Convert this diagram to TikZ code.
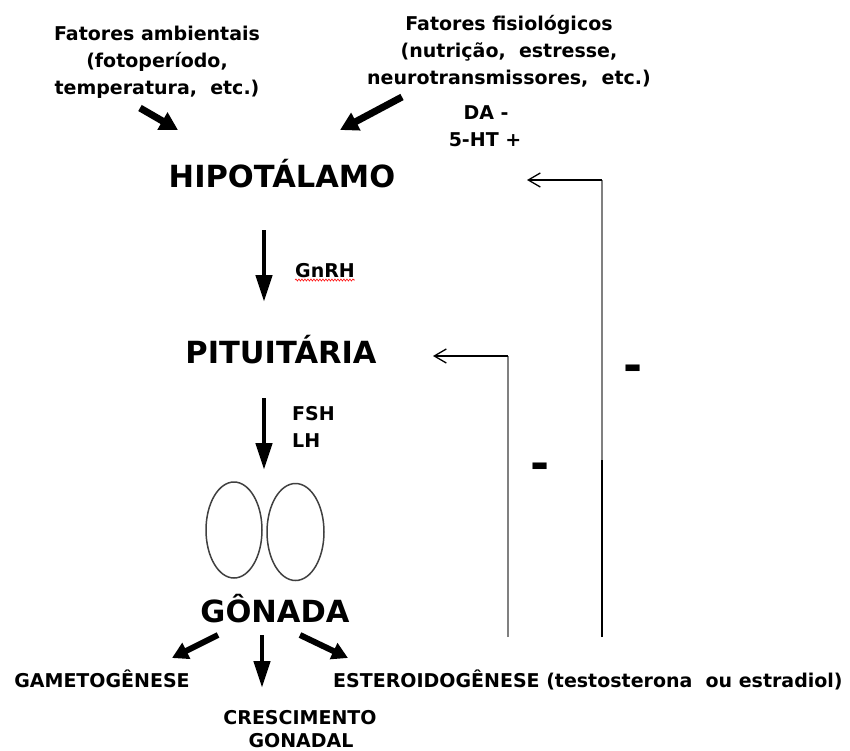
\documentclass[tikz,border=0pt]{standalone}
\usepackage{fontspec}
\setmainfont{DejaVu Sans}
\usetikzlibrary{arrows.meta,decorations.pathmorphing,shapes.geometric}
\begin{document}
\begin{tikzpicture}[x=1pt,y=-1pt,
  lbl/.style={inner sep=0,font=\fontsize{19}{19}\selectfont\bfseries,anchor=base},
  big/.style={inner sep=0,font=\fontsize{30.5}{30.5}\selectfont\bfseries,anchor=base},
  bot/.style={inner sep=0,font=\fontsize{19}{19}\selectfont\bfseries,anchor=base},
  mainarrow/.style={line width=4.5pt,-{Triangle[length=27pt,width=16pt]}},
  fatarrow/.style={line width=7pt,-{Triangle[length=18pt,width=19pt]}},
  fbline/.style={line width=1.3pt},
  fbarrow/.style={line width=1.3pt,-{Straight Barb[length=12pt,width=14pt]}},
  fbgray/.style={line width=2.5pt,draw=black!50},
  minus/.style={inner sep=0,font=\fontsize{46}{46}\selectfont\bfseries,anchor=base},
  gonad/.style={draw=black!75,line width=1.5pt,ellipse,inner sep=0}]

\useasboundingbox (0,0) rectangle (850,751);

% factor texts
\node[lbl] (amb1) at (157,41) {Fatores ambientais};
\node[lbl] (amb2) at (157,68) {(fotoperíodo,};
\node[lbl] (amb3) at (157,95) {temperatura,\ \ etc.)};
\node[lbl] (fis1) at (509,31) {Fatores fisiológicos};
\node[lbl] (fis2) at (509,58) {(nutrição,\ \ estresse,};
\node[lbl] (fis3) at (509,85) {neurotransmissores,\ \ etc.)};
\node[lbl] (da) at (486,120) {DA -};
\node[lbl] (ht) at (485,147) {5-HT +};

% main nodes
\node[big] (hip) at (282,188) {HIPOTÁLAMO};
\node[big] (pit) at (281,363) {PITUITÁRIA};
\node[big] (gon) at (275,622) {GÔNADA};

\node[lbl] (gnrh) at (325,277) {GnRH};
\draw[red,line width=0.6pt,decorate,decoration={snake,segment length=3pt,amplitude=1pt}]
  (gnrh.base west) ++(0,3) -- ++(60,0);
\node[lbl,anchor=base west] (fsh) at (292,420) {FSH};
\node[lbl,anchor=base west] (lh) at (292,447) {LH};

% gonads
\node[gonad,minimum width=56pt,minimum height=96pt] (gonL) at (234,530) {};
\node[gonad,minimum width=57pt,minimum height=97pt] (gonR) at (295.5,532) {};

% outputs
\node[bot] (gam) at (102,687) {GAMETOGÊNESE};
\node[bot,anchor=base west] (est) at (333,687) {ESTEROIDOGÊNESE (testosterona\ \ ou estradiol)};
\node[bot] (cre1) at (300,724) {CRESCIMENTO};
\node[bot] (cre2) at (301,747) {GONADAL};

% arrow coordinates
\coordinate (a1s) at (140,108); \coordinate (a1e) at (178,130);
\coordinate (a2s) at (402,97);  \coordinate (a2e) at (340,130);
\coordinate (m1s) at (264,230); \coordinate (m1e) at (264,302);
\coordinate (m2s) at (264,398); \coordinate (m2e) at (264,470);
\coordinate (m3s) at (262,635); \coordinate (m3e) at (262,688);
\coordinate (b1s) at (218,635); \coordinate (b1e) at (172,658);
\coordinate (b2s) at (300,635); \coordinate (b2e) at (348,658);

\draw[fatarrow] (a1s) -- (a1e);
\draw[fatarrow] (a2s) -- (a2e);
\draw[mainarrow] (m1s) -- (m1e);
\draw[mainarrow] (m2s) -- (m2e);
\draw[mainarrow] (m3s) -- (m3e);
\draw[fatarrow,line width=6pt,-{Triangle[length=16pt,width=17pt]}] (b1s) -- (b1e);
\draw[fatarrow,line width=6pt,-{Triangle[length=16pt,width=17pt]}] (b2s) -- (b2e);

% feedback loops
\coordinate (f1b) at (602,637); \coordinate (f1m) at (602,460);
\coordinate (f1c) at (602,180); \coordinate (f1t) at (527,180);
\coordinate (f2b) at (508,637); \coordinate (f2c) at (508,356);
\coordinate (f2t) at (433,356);

\draw[fbline] (f1b) -- (f1m);
\draw[fbgray] (f1m) -- (f1c);
\draw[fbarrow] (f1c) -- (f1t);
\draw[fbgray] (f2b) -- (f2c);
\draw[fbarrow] (f2c) -- (f2t);

\node[minus] (mi1) at (633.5,381) {-};
\node[minus] (mi2) at (540.5,479) {-};
\end{tikzpicture}
\end{document}
